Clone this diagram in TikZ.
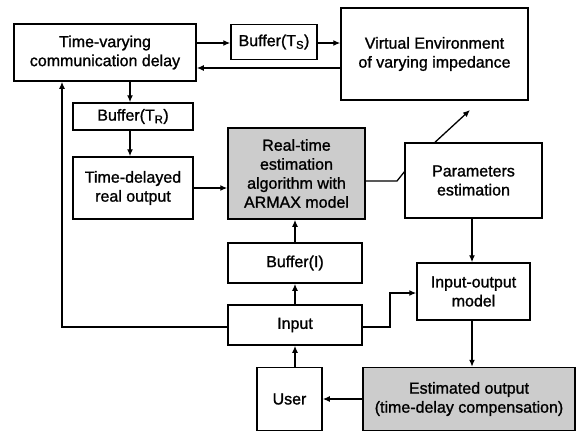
\documentclass[tikz,border=0pt]{standalone}
\usepackage{fontspec}
\setmainfont{Liberation Sans}[BoldFont={Liberation Sans},BoldFeatures={FakeBold=1.2}]
\usetikzlibrary{arrows.meta}
\begin{document}
\begin{tikzpicture}[x=1pt,y=-1pt,
  blk/.style={draw=black, line width=1.5pt, fill=white, align=center, inner sep=0pt,
    font=\fontsize{16}{19}\selectfont\bfseries},
  shaded/.style={blk, fill=gray!40},
  arr/.style={line width=1.3pt, -{Latex[length=7pt,width=6pt]}},
  ln/.style={line width=1.3pt}]
\useasboundingbox (0,0) rectangle (585,432);
\node[blk, minimum width=182pt, minimum height=57pt] (tvcd) at (105,52.5) {Time-varying\\communication delay};
\node[blk, minimum width=86pt, minimum height=35pt] (bufs) at (274,42) {Buffer(T\textsubscript{S})};
\node[blk, minimum width=187pt, minimum height=92pt] (ve) at (434.5,54) {Virtual Environment\\of varying impedance};
\node[blk, minimum width=120pt, minimum height=27pt] (bufr) at (133,116.5) {Buffer(T\textsubscript{R})};
\node[blk, minimum width=120pt, minimum height=62pt] (tdro) at (133,188) {Time-delayed\\real output};
\node[shaded, minimum width=137pt, minimum height=91pt] (rte) at (296.5,173.5) {Real-time\\estimation\\algorithm with\\ARMAX model};
\node[blk, minimum width=137pt, minimum height=75pt] (pe) at (473.5,180.5) {Parameters\\estimation};
\node[blk, minimum width=134pt, minimum height=40pt] (bufi) at (295,263) {Buffer(I)};
\node[blk, minimum width=134pt, minimum height=40pt] (inp) at (295,325) {Input};
\node[blk, minimum width=65pt, minimum height=63pt] (user) at (289.5,399) {User};
\node[blk, minimum width=113pt, minimum height=57pt] (io) at (473.5,291.5) {Input-output\\model};
\node[shaded, minimum width=212pt, minimum height=63pt] (est) at (469,399) {Estimated output\\(time-delay compensation)};

\draw[arr] (tvcd.east |- 0,43) -- (bufs.west |- 0,43);
\draw[arr] (bufs.east |- 0,43) -- (ve.west |- 0,43);
\draw[arr] (ve.west |- 0,68) -- (tvcd.east |- 0,68);
\draw[arr] (tvcd.south -| 130,0) -- (bufr.north -| 130,0);
\draw[arr] (bufr.south -| 130,0) -- (tdro.north -| 130,0);
\draw[arr] (tdro.east |- 0,188) -- (rte.west |- 0,188);
\coordinate (bend) at (397,181);
\coordinate (peIn) at (405,171);
\draw[ln] (rte.east |- bend) -- (bend) -- (peIn);
\coordinate (veTip) at (470,110);
\draw[arr] (pe.north -| 435,0) -- (veTip);
\draw[arr] (pe.south -| 472,0) -- (io.north -| 472,0);
\draw[arr] (io.south -| 472,0) -- (est.north -| 472,0);
\draw[arr] (est.west |- 0,399) -- (user.east |- 0,399);
\draw[arr] (user.north -| 295,0) -- (inp.south -| 295,0);
\draw[arr] (inp.north -| 295,0) -- (bufi.south -| 295,0);
\draw[arr] (bufi.north -| 295,0) -- (rte.south -| 295,0);
\draw[arr] (inp.east |- 0,327) -- (390,327) -- (390,293) -- (io.west |- 0,293);
\draw[arr] (inp.west |- 0,327) -- (62,327) -- (tvcd.south -| 62,0);
\end{tikzpicture}
\end{document}
